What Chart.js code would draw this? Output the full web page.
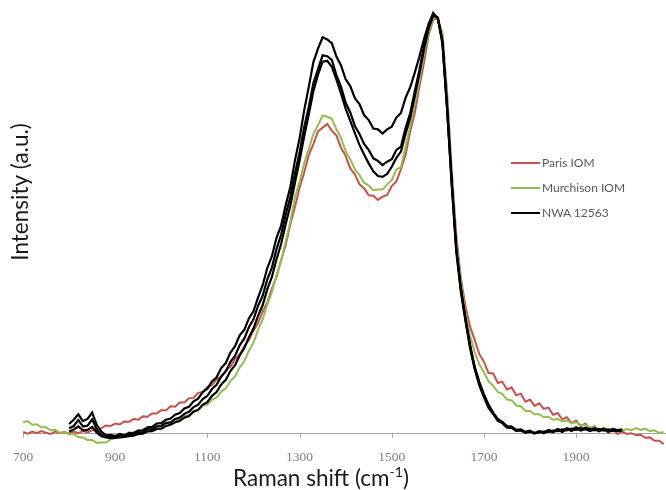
<!DOCTYPE html>
<html>
<head>
<meta charset="utf-8">
<title>Raman spectra</title>
<script src="https://cdn.jsdelivr.net/npm/chart.js@4.4.1/dist/chart.umd.min.js"></script>
<style>
  body { margin: 0; background: #fff; }
  #wrap { position: relative; width: 666px; height: 490px; }
  #legend { position: absolute; left: 511px; top: 150px; font: 12px Lato, sans-serif; color: #595959; }
  .leg-row { display: flex; align-items: center; height: 25px; }
  .leg-line { width: 29px; height: 2px; margin-right: 2px; }
</style>
</head>
<body>
<div id="wrap">
  <canvas id="ramanChart" width="666" height="490"></canvas>
  <div id="legend"></div>
</div>
<script>
/* ================================================================
   DATA (intensity in a.u., G band = 100)
   ================================================================ */
const xTicks = [700, 900, 1100, 1300, 1500, 1700, 1900];

// Raman shift grid for the IOM spectra (cm-1)
const shiftIom = [
  700, 710, 720, 730, 740, 750, 760, 770, 780, 790,
  800, 810, 820, 830, 840, 850, 860, 870, 880, 890,
  900, 910, 920, 930, 940, 950, 960, 970, 980, 990,
  1000, 1010, 1020, 1030, 1040, 1050, 1060, 1070, 1080, 1090,
  1100, 1110, 1120, 1130, 1140, 1150, 1160, 1170, 1180, 1190,
  1200, 1210, 1220, 1230, 1240, 1250, 1260, 1270, 1280, 1290,
  1300, 1310, 1320, 1330, 1340, 1350, 1360, 1370, 1380, 1390,
  1400, 1410, 1420, 1430, 1440, 1450, 1460, 1470, 1480, 1490,
  1500, 1510, 1520, 1530, 1540, 1550, 1560, 1570, 1580, 1590,
  1600, 1610, 1620, 1630, 1640, 1650, 1660, 1670, 1680, 1690,
  1700, 1710, 1720, 1730, 1740, 1750, 1760, 1770, 1780, 1790,
  1800, 1810, 1820, 1830, 1840, 1850, 1860, 1870, 1880, 1890,
  1900, 1910, 1920, 1930, 1940, 1950, 1960, 1970, 1980, 1990,
  2000, 2010, 2020, 2030, 2040, 2050, 2060, 2070, 2080, 2090
];

// Raman shift grid for the NWA 12563 spectra (cm-1)
const shiftNwa = [
  800, 810, 820, 830, 840, 850, 860, 870, 880, 890,
  900, 910, 920, 930, 940, 950, 960, 970, 980, 990,
  1000, 1010, 1020, 1030, 1040, 1050, 1060, 1070, 1080, 1090,
  1100, 1110, 1120, 1130, 1140, 1150, 1160, 1170, 1180, 1190,
  1200, 1210, 1220, 1230, 1240, 1250, 1260, 1270, 1280, 1290,
  1300, 1310, 1320, 1330, 1340, 1350, 1360, 1370, 1380, 1390,
  1400, 1410, 1420, 1430, 1440, 1450, 1460, 1470, 1480, 1490,
  1500, 1510, 1520, 1530, 1540, 1550, 1560, 1570, 1580, 1590,
  1600, 1610, 1620, 1630, 1640, 1650, 1660, 1670, 1680, 1690,
  1700, 1710, 1720, 1730, 1740, 1750, 1760, 1770, 1780, 1790,
  1800, 1810, 1820, 1830, 1840, 1850, 1860, 1870, 1880, 1890,
  1900, 1910, 1920, 1930, 1940, 1950, 1960, 1970, 1980, 1990,
  2000
];

const parisIom = [
  0.3, -0.1, 0.4, 0.0, 0.5, 0.1, -0.2, 0.4, 0.0, 0.3,
  -0.1, 0.4, 0.0, 0.5, 0.2, 0.7, 1.0, 1.2, 1.8, 1.7,
  2.3, 2.1, 2.8, 2.7, 3.4, 3.2, 4.0, 3.9, 4.7, 4.7,
  5.5, 5.4, 6.4, 6.3, 7.3, 7.3, 8.3, 8.4, 9.6, 9.8,
  11.0, 11.4, 12.8, 13.4, 15.0, 15.8, 17.6, 18.7, 20.7, 22.1,
  24.4, 26.2, 28.9, 31.1, 34.4, 37.2, 41.2, 44.8, 49.7, 53.8,
  58.4, 62.0, 66.2, 68.8, 71.8, 72.7, 73.6, 72.0, 70.8, 67.9,
  66.0, 63.0, 61.6, 59.2, 58.3, 56.6, 56.5, 55.5, 56.3, 56.7,
  58.8, 59.9, 62.8, 66.2, 71.8, 76.2, 82.5, 88.2, 94.7, 98.4,
  98.7, 94.8, 81.2, 62.8, 47.2, 36.8, 30.2, 25.3, 22.2, 18.8,
  17.0, 14.3, 14.2, 12.0, 12.2, 10.4, 10.9, 9.0, 9.4, 7.5,
  8.0, 6.5, 7.1, 5.8, 6.1, 4.4, 4.8, 3.3, 3.8, 2.4,
  3.0, 1.6, 2.3, 1.0, 1.7, 0.4, 1.2, 0.0, 0.9, -0.2,
  0.4, -0.2, 0.0, -0.5, -0.4, -1.1, -1.0, -1.8, -1.8, -2.6
];

const murchisonIom = [
  2.6, 2.9, 2.0, 2.1, 1.4, 1.4, 0.7, 0.8, 0.1, 0.3,
  -0.3, -0.2, -0.9, -1.0, -1.6, -1.6, -2.3, -2.2, -2.2, -1.4,
  -1.2, -0.4, -0.5, 0.2, 0.1, 0.7, 0.6, 1.2, 1.1, 1.8,
  1.8, 2.5, 2.4, 3.1, 3.2, 4.1, 4.2, 5.2, 5.4, 6.5,
  6.8, 8.0, 8.5, 9.9, 10.7, 12.4, 13.5, 15.6, 17.1, 19.6,
  21.5, 24.6, 27.1, 30.6, 33.6, 37.6, 41.0, 45.7, 50.3, 56.2,
  59.8, 64.2, 67.6, 71.2, 73.3, 75.6, 75.3, 74.8, 72.3, 70.2,
  67.1, 65.2, 62.8, 61.4, 59.6, 58.9, 57.8, 58.0, 58.0, 59.2,
  60.2, 62.7, 63.3, 68.2, 73.0, 78.6, 83.8, 90.2, 95.3, 99.0,
  98.6, 95.2, 79.8, 62.2, 45.6, 36.2, 28.3, 23.2, 19.3, 16.4,
  14.5, 12.3, 11.3, 9.8, 9.3, 8.0, 7.8, 6.6, 6.4, 5.3,
  5.3, 4.5, 4.5, 3.8, 3.9, 3.2, 3.4, 2.8, 3.0, 2.4,
  2.6, 1.9, 2.0, 1.3, 1.5, 0.9, 1.2, 0.7, 1.1, 0.6,
  0.6, 1.0, 0.7, 1.2, 0.8, 1.1, 0.5, 0.7, 0.1, 0.2
];

// three NWA 12563 spots
const nwaSpot1 = [
  2.2, 3.2, 4.5, 2.9, 3.4, 4.9, 2.0, 0.4, -0.5, -0.4,
  -0.7, -0.2, -0.5, 0.0, 0.1, 0.6, 0.7, 1.4, 1.5, 2.3,
  2.4, 3.2, 3.5, 4.4, 4.8, 5.9, 6.3, 7.6, 8.2, 9.8,
  10.6, 12.3, 13.3, 15.5, 16.7, 19.2, 20.7, 23.3, 24.6, 27.3,
  29.0, 32.3, 35.2, 39.3, 42.1, 46.5, 49.4, 54.3, 58.6, 64.9,
  70.1, 76.8, 82.4, 88.3, 91.5, 94.2, 93.7, 92.8, 89.6, 87.5,
  84.2, 82.6, 79.7, 78.3, 75.7, 74.5, 72.5, 72.3, 71.3, 72.3,
  72.9, 75.1, 76.2, 79.8, 82.3, 85.8, 89.6, 93.8, 97.4, 100.0,
  98.6, 93.4, 77.6, 60.2, 43.8, 34.6, 27.3, 21.0, 15.8, 12.2,
  9.3, 6.8, 4.9, 3.4, 2.7, 1.7, 1.6, 0.8, 0.9, 0.3,
  0.6, 0.0, 0.5, 0.2, 0.8, 0.4, 1.0, 0.6, 1.2, 0.8,
  1.4, 0.9, 1.3, 0.8, 1.2, 0.7, 1.1, 0.6, 1.0, 0.7,
  0.9
];

const nwaSpot2 = [
  1.2, 1.7, 3.1, 1.6, 1.8, 3.3, 0.9, -0.4, -0.9, -0.8,
  -1.0, -0.6, -0.8, -0.3, -0.4, 0.2, 0.2, 0.9, 0.9, 1.6,
  1.7, 2.4, 2.6, 3.4, 3.7, 4.6, 5.1, 6.2, 6.8, 8.1,
  8.9, 10.5, 11.5, 13.5, 14.7, 17.0, 18.4, 20.9, 22.5, 25.2,
  27.1, 30.3, 32.7, 36.6, 39.4, 43.8, 47.2, 52.1, 56.2, 61.8,
  66.7, 72.8, 77.6, 83.3, 86.6, 89.9, 89.7, 88.8, 85.2, 82.4,
  78.6, 76.3, 73.1, 71.2, 68.8, 67.4, 65.4, 64.8, 63.8, 64.6,
  65.2, 67.4, 68.2, 72.6, 76.1, 81.4, 86.3, 92.2, 96.6, 99.6,
  98.8, 92.6, 77.2, 59.2, 43.2, 33.6, 26.8, 20.2, 15.2, 11.4,
  8.6, 6.0, 4.6, 2.9, 2.4, 1.3, 1.4, 0.5, 0.8, 0.1,
  0.5, -0.1, 0.4, 0.0, 0.6, 0.2, 0.8, 0.3, 1.0, 0.5,
  1.1, 0.6, 1.0, 0.5, 0.9, 0.5, 0.9, 0.4, 0.8, 0.5,
  0.7
];

const nwaSpot3 = [
  0.4, 0.9, 1.6, 0.7, 0.8, 1.5, 0.1, -0.7, -1.0, -1.2,
  -1.1, -1.0, -0.9, -0.7, -0.6, -0.2, -0.1, 0.4, 0.5, 1.0,
  1.1, 1.7, 2.0, 2.6, 2.9, 3.7, 4.1, 5.1, 5.6, 6.8,
  7.4, 8.9, 9.8, 11.6, 12.7, 14.8, 16.2, 18.5, 20.2, 22.8,
  24.9, 27.9, 30.5, 34.2, 37.2, 41.4, 45.0, 49.8, 54.2, 59.6,
  64.8, 70.6, 75.8, 81.4, 85.3, 88.4, 88.6, 87.2, 84.1, 80.8,
  77.2, 74.3, 71.4, 68.6, 66.3, 64.2, 62.3, 61.2, 61.0, 61.7,
  63.4, 65.5, 67.0, 71.2, 75.0, 80.2, 85.6, 91.4, 96.3, 99.4,
  98.9, 93.0, 77.9, 60.0, 44.0, 34.2, 26.9, 20.6, 15.5, 11.8,
  8.8, 6.4, 4.7, 3.2, 2.5, 1.5, 1.3, 0.7, 0.6, 0.2,
  0.3, 0.1, 0.2, 0.4, 0.3, 0.6, 0.5, 0.9, 0.7, 1.1,
  0.8, 1.2, 0.9, 1.1, 0.7, 1.0, 0.6, 0.9, 0.5, 0.8,
  0.6
];

const RED = "#c9514c";
const GREEN = "#93bd4f";
const BLACK = "#000000";

/* ================================================================
   HELPERS
   ================================================================ */
function toPoints(xs, ys) {
  return xs.map((x, i) => ({ x, y: ys[i] }));
}

function lineSet(label, xs, ys, color, width, order, inLegend) {
  return {
    label,
    data: toPoints(xs, ys),
    borderColor: color,
    borderWidth: width,
    pointRadius: 0,
    tension: 0,
    order,
    inLegend
  };
}

// axis baseline at zero intensity, small tick marks, and both axis titles
const axisDecor = {
  id: "axisDecor",
  beforeDatasetsDraw(chart) {
    const { ctx, chartArea, scales } = chart;
    const y0 = Math.round(scales.y.getPixelForValue(0)) + 0.5;
    ctx.save();
    ctx.strokeStyle = "#a6a6a6";
    ctx.lineWidth = 1;
    ctx.beginPath();
    ctx.moveTo(chartArea.left, y0);
    ctx.lineTo(chartArea.right, y0);
    xTicks.forEach(v => {
      const px = Math.round(scales.x.getPixelForValue(v)) + 0.5;
      ctx.moveTo(px, y0);
      ctx.lineTo(px, y0 + 4);
    });
    ctx.stroke();
    ctx.restore();
  },
  afterDraw(chart) {
    const ctx = chart.ctx;
    ctx.save();
    ctx.fillStyle = "#1a1a1a";
    ctx.font = "22.5px Lato";
    ctx.textBaseline = "middle";
    ctx.textAlign = "center";
    ctx.translate(21, 192);
    ctx.rotate(-Math.PI / 2);
    ctx.fillText("Intensity (a.u.)", 0, 0);
    ctx.restore();

    ctx.save();
    ctx.fillStyle = "#1a1a1a";
    ctx.textBaseline = "alphabetic";
    ctx.textAlign = "left";
    const main = "Raman shift (cm", sup = "-1", end = ")";
    ctx.font = "22.5px Lato";
    const w1 = ctx.measureText(main).width, w3 = ctx.measureText(end).width;
    ctx.font = "14px Lato";
    const w2 = ctx.measureText(sup).width;
    let x = 321 - (w1 + w2 + w3) / 2;
    ctx.font = "22.5px Lato";
    ctx.fillText(main, x, 486);
    ctx.font = "14px Lato";
    ctx.fillText(sup, x + w1, 477);
    ctx.font = "22.5px Lato";
    ctx.fillText(end, x + w1 + w2, 486);
    ctx.restore();
  }
};

/* ================================================================
   CHART
   ================================================================ */
const datasets = [
  lineSet("Paris IOM", shiftIom, parisIom, RED, 2, 5, true),
  lineSet("Murchison IOM", shiftIom, murchisonIom, GREEN, 2, 4, true),
  lineSet("NWA 12563", shiftNwa, nwaSpot1, BLACK, 2.2, 3, true),
  lineSet("NWA 12563 (2)", shiftNwa, nwaSpot2, BLACK, 2.2, 2, false),
  lineSet("NWA 12563 (3)", shiftNwa, nwaSpot3, BLACK, 2.2, 1, false)
];

new Chart(document.getElementById("ramanChart"), {
  type: "line",
  data: { datasets },
  plugins: [axisDecor],
  options: {
    responsive: false,
    animation: false,
    layout: { padding: { left: 23, right: 0, top: 4.5, bottom: 20 } },
    plugins: {
      legend: { display: false },
      tooltip: { enabled: false }
    },
    scales: {
      x: {
        type: "linear",
        min: 700,
        max: 2095,
        afterBuildTicks: scale => { scale.ticks = xTicks.map(v => ({ value: v })); },
        grid: { display: false, drawTicks: false },
        border: { display: false },
        ticks: {
          autoSkip: false,
          maxRotation: 0,
          padding: 4,
          color: "#7f7f7f",
          font: { family: "Liberation Serif", size: 13.5 },
          callback: v => String(v)
        }
      },
      y: {
        display: false,
        min: -3,
        max: 102
      }
    }
  }
});

/* ================================================================
   LEGEND
   ================================================================ */
const legendEl = document.getElementById("legend");
datasets.filter(d => d.inLegend).forEach(d => {
  const row = document.createElement("div");
  row.className = "leg-row";
  row.innerHTML = `<span class="leg-line" style="background:${d.borderColor}"></span><span>${d.label}</span>`;
  legendEl.appendChild(row);
});
</script>
</body>
</html>
